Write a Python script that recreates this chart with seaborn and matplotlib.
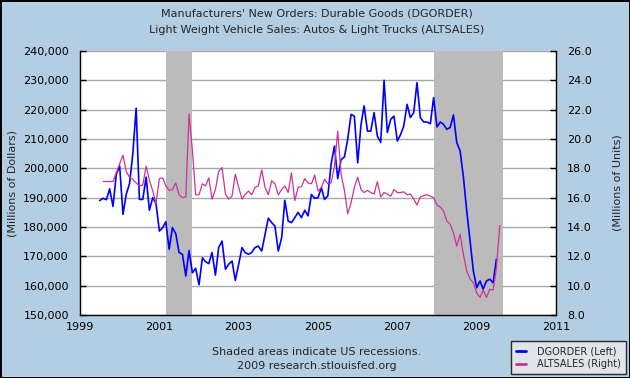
import numpy as np
import pandas as pd
import matplotlib
matplotlib.use("Agg")
import matplotlib.pyplot as plt
import matplotlib.dates as mdates
from matplotlib.ticker import FuncFormatter, MultipleLocator
import seaborn as sns

#### Données
# DGORDER, millions de dollars, mensuel juil. 1999 -> juil. 2009
dgorder = [
    189.0, 189.8, 189.3, 193.0, 187.0, 198.0,
    200.8, 184.3, 191.0, 194.8, 204.8, 220.5, 189.4, 189.4, 197.0, 185.7, 190.0, 188.0,
    178.6, 179.8, 181.8, 172.4, 179.8, 177.7, 171.3, 170.7, 163.3, 172.0, 164.4, 165.9,
    160.3, 169.5, 168.2, 167.5, 171.3, 163.6, 173.0, 175.2, 165.6, 167.3, 168.4, 161.8,
    167.3, 173.0, 171.3, 170.7, 171.3, 173.0, 173.5, 171.8, 177.5, 183.0, 181.5, 180.3,
    171.8, 176.4, 189.1, 182.0, 181.5, 183.2, 185.0, 183.2, 185.7, 183.8, 191.1, 189.8,
    190.0, 193.4, 189.4, 190.6, 201.4, 207.6, 196.5, 203.0, 203.9, 209.9, 218.4, 217.8,
    201.9, 215.0, 221.3, 212.7, 212.7, 219.0, 211.0, 208.8, 230.0, 212.2, 216.7, 217.8,
    209.3, 211.6, 214.4, 221.8, 217.3, 219.0, 229.2, 217.3, 215.8, 215.8, 215.2, 224.1,
    214.1, 215.8, 215.0, 213.3, 213.9, 218.2, 208.8, 205.9, 196.8, 185.5, 175.2, 165.0,
    159.3, 161.6, 158.8, 161.6, 162.2, 161.0, 169.0,
]
dgorder = [v * 1000 for v in dgorder]

# ALTSALES, millions d'unités, mensuel août 1999 -> août 2009
altsales = [
    17.1, 17.1, 17.1, 17.1, 17.7,
    18.3, 18.9, 17.8, 17.4, 17.25, 17.0, 16.8, 16.85, 18.15, 17.2, 16.45, 15.6,
    17.3, 17.35, 16.8, 16.5, 16.55, 17.0, 16.2, 16.0, 16.05, 21.7, 19.2, 16.2,
    16.2, 16.95, 16.8, 17.35, 15.9, 16.55, 17.8, 18.05, 16.25, 15.9, 16.1, 17.6,
    16.7, 15.9, 16.2, 16.45, 16.2, 16.7, 16.8, 17.9, 16.7, 16.2, 17.15, 16.95,
    16.2, 16.55, 16.8, 16.35, 17.7, 15.8, 16.7, 16.75, 17.3, 17.0, 16.95, 17.55,
    16.45, 16.7, 17.25, 16.95, 17.0, 18.15, 20.55, 17.6, 16.5, 14.9, 15.65, 16.7,
    17.4, 16.55, 16.35, 16.5, 16.35, 16.25, 17.1, 16.05, 16.35, 16.25, 16.1, 16.55,
    16.35, 16.35, 16.4, 16.2, 16.25, 15.9, 15.5, 16.05, 16.15, 16.2, 16.1, 16.0,
    15.5, 15.35, 15.1, 14.4, 14.2, 13.6, 12.7, 13.5, 12.1, 11.0, 10.45, 10.2,
    9.5, 9.2, 9.7, 9.2, 9.75, 9.7, 11.2, 14.1,
]

recessions = [("2001-03-01", "2001-11-01"), ("2007-12-01", "2009-09-01")]
years = [1999, 2001, 2003, 2005, 2007, 2009, 2011]

df_dg = pd.DataFrame({"date": pd.date_range("1999-07-01", periods=len(dgorder), freq="MS"),
                      "value": dgorder})
df_alt = pd.DataFrame({"date": pd.date_range("1999-08-01", periods=len(altsales), freq="MS"),
                       "value": altsales})

#### Figure
sns.set_style("white")
plt.rcParams["font.family"] = ["DejaVu Sans"]
bg = "#B3CDE3"
W, H = 630, 378

fig = plt.figure(figsize=(6.3, 3.78), dpi=100, facecolor=bg)
fig.patch.set_edgecolor("black")
fig.patch.set_linewidth(2)

ax = fig.add_axes([80 / W, 1 - 315 / H, 476 / W, 264 / H])
ax.set_facecolor("white")
ax2 = ax.twinx()

# Zones de récession
for start, end in recessions:
    ax.axvspan(pd.Timestamp(start), pd.Timestamp(end), color="#BBBBBB", lw=0, zorder=1)

sns.lineplot(data=df_dg, x="date", y="value", ax=ax, color="#0000FF", lw=1.2, zorder=3)
sns.lineplot(data=df_alt, x="date", y="value", ax=ax2, color="#CC3399", lw=0.9, zorder=3)

ax.set_xlim(pd.Timestamp("1999-01-01"), pd.Timestamp("2011-01-01"))
ax.set_xticks([pd.Timestamp(f"{y}-01-01") for y in years])
ax.xaxis.set_major_formatter(mdates.DateFormatter("%Y"))

ax.set_ylim(150000, 240000)
ax.yaxis.set_major_locator(MultipleLocator(10000))
ax.yaxis.set_major_formatter(FuncFormatter(lambda v, p: f"{int(v):,}"))
ax2.set_ylim(8, 26)
ax2.yaxis.set_major_locator(MultipleLocator(2))
ax2.yaxis.set_major_formatter(FuncFormatter(lambda v, p: f"{v:.1f}"))

ax.set_axisbelow(True)
ax.yaxis.grid(True, color="#A8A8A8", lw=1.0)
ax.xaxis.grid(False)

for a in (ax, ax2):
    a.spines["top"].set_visible(False)
    for s in ("left", "right", "bottom"):
        a.spines[s].set_color("black")
        a.spines[s].set_linewidth(1.0)
ax.spines["right"].set_visible(False)
ax2.spines["left"].set_visible(False)
ax2.spines["bottom"].set_visible(False)

ax.tick_params(axis="x", direction="in", length=4, width=1, labelsize=8, pad=5, colors="black")
ax.tick_params(axis="y", direction="in", length=4, width=1, labelsize=8, pad=8, colors="black")
ax2.tick_params(axis="y", direction="in", length=4, width=1, labelsize=8, pad=8, colors="black")

ax.set_xlabel("")
ax.set_ylabel("(Millions of Dollars)", fontsize=8)
ax2.set_ylabel("(Millions of Units)", fontsize=8)
ax.yaxis.set_label_coords((18 - 80) / 476, 0.5)
ax2.yaxis.set_label_coords((613 - 80) / 476, 0.5)

fig.text(317 / W, 1 - 14 / H, "Manufacturers' New Orders: Durable Goods (DGORDER)",
         ha="center", va="center", fontsize=8)
fig.text(317 / W, 1 - 30 / H, "Light Weight Vehicle Sales: Autos & Light Trucks (ALTSALES)",
         ha="center", va="center", fontsize=8)
fig.text(317 / W, 1 - 352 / H, "Shaded areas indicate US recessions.",
         ha="center", va="center", fontsize=8)
fig.text(317 / W, 1 - 366 / H, "2009 research.stlouisfed.org",
         ha="center", va="center", fontsize=8)

handles = [ax.get_lines()[0], ax2.get_lines()[0]]
leg = fig.legend(handles, ["DGORDER (Left)", "ALTSALES (Right)"],
                 loc="lower right", bbox_to_anchor=(626 / W, 1 - 374 / H),
                 fontsize=7, frameon=True, fancybox=False, handlelength=1.0,
                 borderpad=0.5, labelspacing=0.3, handletextpad=1.2, borderaxespad=0)
leg.get_frame().set_facecolor("#EBEBEB")
leg.get_frame().set_edgecolor("black")
leg.get_frame().set_linewidth(1.0)
for line in leg.get_lines():
    line.set_linewidth(2.0)

fig.savefig("out.png", dpi=100, facecolor=bg, edgecolor="black")
